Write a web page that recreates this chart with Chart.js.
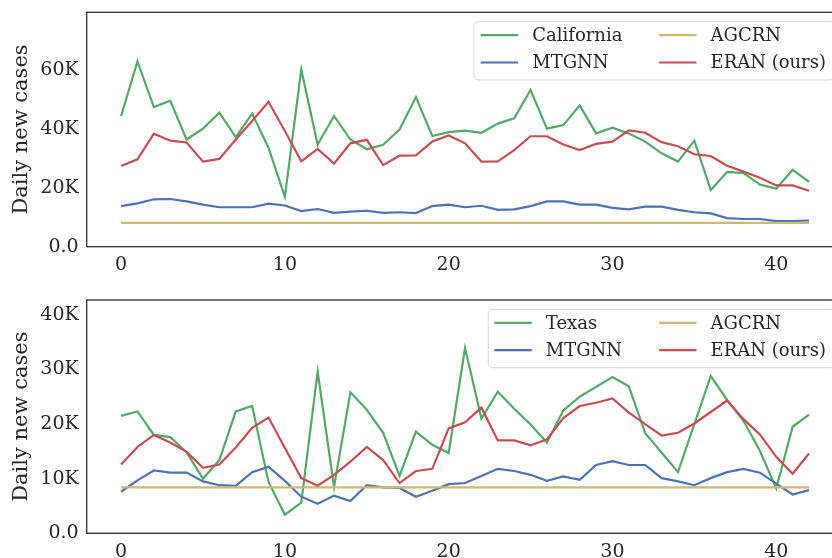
<!DOCTYPE html>
<html>
<head>
<meta charset="utf-8">
<script src="https://cdn.jsdelivr.net/npm/chart.js@4/dist/chart.umd.min.js"></script>
<style>
html,body{margin:0;padding:0;background:#fff;overflow:hidden;width:832px;height:558px;}
#w1{position:absolute;left:0;top:0;width:848px;height:280px;}
#w2{position:absolute;left:0;top:287px;width:848px;height:280px;}
</style>
</head>
<body>
<div id="w1"><canvas id="c1" width="848" height="280"></canvas></div>
<div id="w2"><canvas id="c2" width="848" height="280"></canvas></div>
<script>
// ---- data (values in thousands of daily new cases) ----
const days = [0,1,2,3,4,5,6,7,8,9,10,11,12,13,14,15,16,17,18,19,20,21,22,23,24,25,26,27,28,29,30,31,32,33,34,35,36,37,38,39,40,41,42];

const seriesNames = ['MTGNN', 'AGCRN', 'ERAN (ours)'];

const californiaTruth = [44.4,62.9,47.4,49.6,36.4,40.1,45.5,37.2,45.2,33.6,16.9,60.2,34.7,44.4,36.4,33.1,34.6,39.8,50.8,37.6,38.9,39.4,38.7,41.8,43.6,53.2,40.1,41.3,48.0,38.5,40.4,38.4,35.7,31.7,28.9,36.0,19.2,25.4,25.0,21.1,19.7,26.1,22.0];
const californiaMTGNN = [13.8,14.7,16.1,16.2,15.4,14.3,13.4,13.4,13.4,14.6,14.0,12.1,12.8,11.5,11.9,12.2,11.5,11.7,11.4,13.8,14.3,13.4,13.9,12.5,12.7,13.8,15.4,15.4,14.3,14.3,13.2,12.7,13.6,13.6,12.5,11.7,11.3,9.7,9.4,9.4,8.7,8.7,8.9];
const californiaAGCRN = [8.1,8.1,8.1,8.1,8.1,8.1,8.1,8.1,8.1,8.1,8.1,8.1,8.1,8.1,8.1,8.1,8.1,8.1,8.1,8.1,8.1,8.1,8.1,8.1,8.1,8.1,8.1,8.1,8.1,8.1,8.1,8.1,8.1,8.1,8.1,8.1,8.1,8.1,8.1,8.1,8.1,8.1,8.1];
const californiaERAN = [27.4,29.7,38.4,36.0,35.4,28.9,29.8,36.4,42.7,49.2,39.3,29.0,33.2,28.2,35.1,36.3,27.7,30.9,31.0,35.7,37.8,35.1,28.9,29.0,32.8,37.5,37.5,34.7,32.8,34.9,35.7,39.5,38.7,35.5,34.1,31.4,30.8,27.5,25.5,23.4,20.8,20.8,19.0];

const texasTruth = [21.5,22.3,18.0,17.6,14.8,10.0,13.4,22.3,23.3,9.4,3.4,5.6,29.6,8.5,25.8,22.6,18.4,10.5,18.6,16.2,14.7,33.9,21.0,25.9,22.8,19.9,16.6,22.5,25.0,26.8,28.6,26.9,18.3,14.8,11.2,20.0,28.8,24.4,20.6,15.1,8.2,19.5,21.7];
const texasMTGNN = [7.6,9.7,11.5,11.1,11.1,9.5,8.8,8.7,11.2,12.2,9.6,6.7,5.4,6.9,5.9,8.8,8.4,8.3,6.7,7.8,9.0,9.2,10.5,11.8,11.4,10.7,9.6,10.4,9.8,12.5,13.2,12.5,12.5,10.1,9.5,8.8,10.1,11.2,11.8,11.1,9.1,7.1,7.9];
const texasAGCRN = [8.4,8.4,8.4,8.4,8.4,8.4,8.4,8.4,8.4,8.4,8.4,8.4,8.4,8.4,8.4,8.4,8.4,8.4,8.4,8.4,8.4,8.4,8.4,8.4,8.4,8.4,8.4,8.4,8.4,8.4,8.4,8.4,8.4,8.4,8.4,8.4,8.4,8.4,8.4,8.4,8.4,8.4,8.4];
const texasERAN = [12.6,15.8,18.0,16.6,14.9,12.0,12.6,15.7,19.3,21.2,15.6,10.1,8.7,10.7,13.1,15.8,13.4,9.2,11.4,11.8,19.2,20.3,23.0,17.0,17.0,16.1,17.2,21.1,23.3,23.9,24.7,22.1,20.0,17.9,18.4,20.1,22.2,24.3,20.9,18.1,14.0,10.9,14.6];

const xTicks = [0,10,20,30,40];
const yTicksTop = [0,20,40,60];
const yTicksBottom = [0,10,20,30,40];

// ---- styling ----
const FONT = "'DejaVu Serif', 'Liberation Serif', serif";
const TEXT = '#262626';
const COLORS = {truth:'#55A868', MTGNN:'#4C72B0', AGCRN:'#CCB974', ERAN:'#C44E52'};

function pts(arr){ return days.map((d,i)=>({x:d, y:arr[i]})); }

function makeDatasets(stateName, truth, mt, ag, er){
  return [
    {label: stateName, data: pts(truth), borderColor: COLORS.truth, order: 3},
    {label: seriesNames[0], data: pts(mt), borderColor: COLORS.MTGNN, order: 2},
    {label: seriesNames[1], data: pts(ag), borderColor: COLORS.AGCRN, order: 1},
    {label: seriesNames[2], data: pts(er), borderColor: COLORS.ERAN, order: 0}
  ].map(d => Object.assign(d, {borderWidth: 2.2, pointRadius: 0, tension: 0, fill: false}));
}

const boxPlugin = {
  id: 'box',
  afterDraw(chart){
    const a = chart.chartArea, ctx = chart.ctx;
    ctx.save();
    ctx.strokeStyle = '#262626';
    ctx.lineWidth = 1.25;
    ctx.strokeRect(a.left, a.top, a.right - a.left, a.bottom - a.top);
    ctx.restore();
  }
};

function legendPlugin(cfg){
  return {
    id: 'mplLegend',
    afterDraw(chart){
      const a = chart.chartArea, ctx = chart.ctx;
      const right = a.right - 9.4, top = a.top + 9.4;
      const left = right - cfg.width, h = 58.3;
      ctx.save();
      const r = 4;
      ctx.beginPath();
      ctx.moveTo(left + r, top);
      ctx.lineTo(right - r, top);
      ctx.quadraticCurveTo(right, top, right, top + r);
      ctx.lineTo(right, top + h - r);
      ctx.quadraticCurveTo(right, top + h, right - r, top + h);
      ctx.lineTo(left + r, top + h);
      ctx.quadraticCurveTo(left, top + h, left, top + h - r);
      ctx.lineTo(left, top + r);
      ctx.quadraticCurveTo(left, top, left + r, top);
      ctx.closePath();
      ctx.fillStyle = 'rgba(255,255,255,0.8)';
      ctx.fill();
      ctx.strokeStyle = 'rgba(204,204,204,0.8)';
      ctx.lineWidth = 1;
      ctx.stroke();
      const ds = chart.data.datasets;
      const rows = [top + 13.5, top + 40.8];
      const cols = [left + cfg.col1, right - 175];
      const entries = [[0,0,0],[1,0,1],[2,1,0],[3,1,1]];
      ctx.font = '18px ' + FONT;
      ctx.textBaseline = 'middle';
      ctx.textAlign = 'left';
      entries.forEach(([di, c, rI]) => {
        const x = cols[c], y = rows[rI];
        ctx.strokeStyle = ds[di].borderColor;
        ctx.lineWidth = 2.2;
        ctx.beginPath();
        ctx.moveTo(x, y);
        ctx.lineTo(x + 37.5, y);
        ctx.stroke();
        ctx.fillStyle = TEXT;
        ctx.fillText(ds[di].label, x + 51.5, y + 1);
      });
      ctx.restore();
    }
  };
}

function makeChart(canvasId, datasets, yMax, yTicks, pad, legendCfg){
  return new Chart(document.getElementById(canvasId), {
    type: 'line',
    data: {datasets},
    options: {
      responsive: false,
      animation: false,
      devicePixelRatio: 1,
      layout: {padding: pad},
      plugins: {legend: {display: false}, tooltip: {enabled: false}},
      scales: {
        x: {
          type: 'linear', min: -2.1, max: 44.1,
          grid: {display: false, drawTicks: false},
          border: {display: false},
          afterFit(s){ s.height = 30; s.paddingLeft = 0; s.paddingRight = 0; },
          afterBuildTicks(s){ s.ticks = xTicks.map(v => ({value: v})); },
          ticks: {padding: 7, color: TEXT, font: {family: FONT, size: 19}, maxRotation: 0, autoSkip: false,
                  callback: v => String(v)}
        },
        y: {
          type: 'linear', min: 0, max: yMax,
          grid: {display: false, drawTicks: false},
          border: {display: false},
          afterFit(s){ s.width = 86.7; s.paddingTop = 0; s.paddingBottom = 0; },
          afterBuildTicks(s){ s.ticks = yTicks.map(v => ({value: v})); },
          title: {display: true, text: 'Daily new cases', color: TEXT, font: {family: FONT, size: 21},
                  padding: {top: 9.4, bottom: 0}},
          ticks: {padding: 8, color: TEXT, font: {family: FONT, size: 19}, autoSkip: false,
                  callback: v => v === 0 ? '0.0' : v + 'K'}
        }
      }
    },
    plugins: [boxPlugin, legendPlugin(legendCfg)]
  });
}

makeChart('c1', makeDatasets('California', californiaTruth, californiaMTGNN, californiaAGCRN, californiaERAN),
          79.6, yTicksTop, {left: 0, right: 4.6, top: 12.3, bottom: 3.3}, {width: 360, col1: 6.7});
makeChart('c2', makeDatasets('Texas', texasTruth, texasMTGNN, texasAGCRN, texasERAN),
          42.7, yTicksBottom, {left: 0, right: 4.6, top: 13, bottom: 3.7}, {width: 345.7, col1: 6});
</script>
</body>
</html>
